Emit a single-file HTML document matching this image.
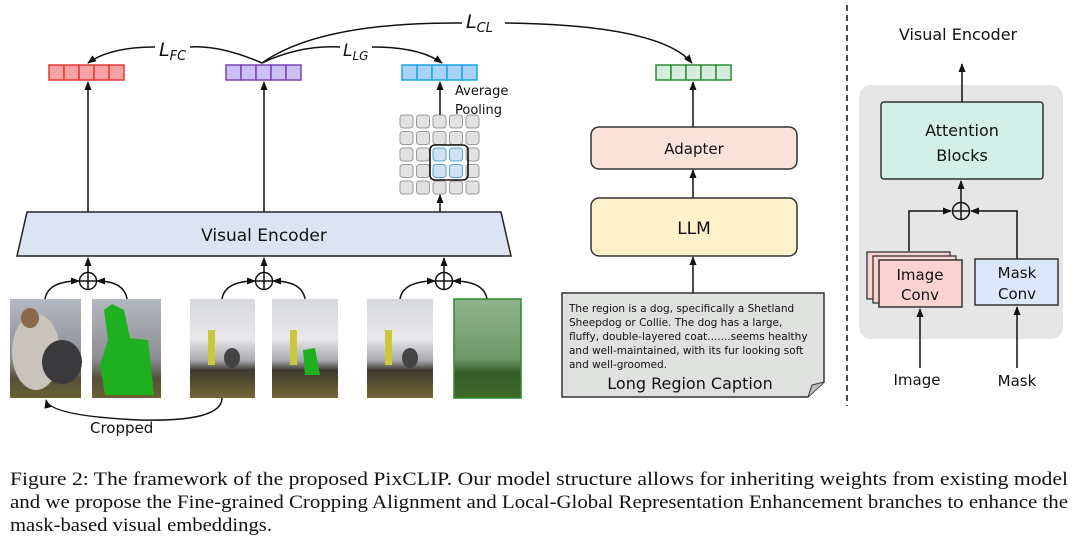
<!DOCTYPE html>
<html><head><meta charset="utf-8"><style>
body{margin:0;background:#fff}
svg{display:block}
text{font-family:"DejaVu Sans","Liberation Sans",sans-serif;fill:#111}
.cap{font-family:"Liberation Serif",serif;font-size:19px;fill:#111}
</style></head><body>
<svg width="1080" height="545" viewBox="0 0 1080 545" xmlns="http://www.w3.org/2000/svg">
<defs>
<marker id="ah" viewBox="0 0 10 10" refX="9" refY="5" markerWidth="6" markerHeight="6" orient="auto-start-reverse"><path d="M0,1 L10,5 L0,9 z" fill="#111"/></marker>
<linearGradient id="sky" x1="0" y1="0" x2="0" y2="1"><stop offset="0" stop-color="#b4b8c0"/><stop offset="0.6" stop-color="#8d8e94"/><stop offset="0.8" stop-color="#55503c"/><stop offset="1" stop-color="#6a6030"/></linearGradient>
<linearGradient id="sky2" x1="0" y1="0" x2="0" y2="1"><stop offset="0" stop-color="#d6d8dc"/><stop offset="0.4" stop-color="#e8e8ea"/><stop offset="0.62" stop-color="#a8a9ae"/><stop offset="0.72" stop-color="#3d3a30"/><stop offset="1" stop-color="#766636"/></linearGradient>
<linearGradient id="gr" x1="0" y1="0" x2="0" y2="1"><stop offset="0" stop-color="#8fb48f"/><stop offset="0.6" stop-color="#6d9a68"/><stop offset="0.75" stop-color="#355c28"/><stop offset="1" stop-color="#3f6a2a"/></linearGradient>
</defs>

<g stroke-width="1.5">
<g fill="#f7a3a3" stroke="#e03a3a"><rect x="49" y="65" width="15" height="15"/><rect x="64" y="65" width="15" height="15"/><rect x="79" y="65" width="15" height="15"/><rect x="94" y="65" width="15" height="15"/><rect x="109" y="65" width="15" height="15"/></g>
<g fill="#cdbff5" stroke="#7a45b0"><rect x="226" y="65" width="15" height="15"/><rect x="241" y="65" width="15" height="15"/><rect x="256" y="65" width="15" height="15"/><rect x="271" y="65" width="15" height="15"/><rect x="286" y="65" width="15" height="15"/></g>
<g fill="#a9d2f7" stroke="#1aa5e0"><rect x="402" y="65" width="15" height="15"/><rect x="417" y="65" width="15" height="15"/><rect x="432" y="65" width="15" height="15"/><rect x="447" y="65" width="15" height="15"/><rect x="462" y="65" width="15" height="15"/></g>
<g fill="#d5eedb" stroke="#2e8b3a"><rect x="656" y="65" width="15" height="15"/><rect x="671" y="65" width="15" height="15"/><rect x="686" y="65" width="15" height="15"/><rect x="701" y="65" width="15" height="15"/><rect x="716" y="65" width="15" height="15"/></g>
</g>

<g fill="none" stroke="#111" stroke-width="1.5">
<path d="M262,63 Q220,45 190,47" /><path d="M155,47 Q110,47 88,63" marker-end="url(#ah)"/>
<path d="M262,63 Q300,45 340,47"/><path d="M372,47 Q420,47 442,63" marker-end="url(#ah)"/>
<path d="M262,63 Q320,22 462,23"/><path d="M505,23 Q660,25 692,63" marker-end="url(#ah)"/>
</g>
<text x="159" y="56" font-size="19" font-style="italic">L<tspan font-size="13" dy="4">FC</tspan></text>
<text x="343" y="56" font-size="17" font-style="italic">L<tspan font-size="12" dy="4">LG</tspan></text>
<text x="466" y="28" font-size="19" font-style="italic">L<tspan font-size="13" dy="4">CL</tspan></text>

<g fill="#e2e2e2" stroke="#999" stroke-width="1">
<rect x="400" y="115" width="13" height="13" rx="3"/><rect x="416.5" y="115" width="13" height="13" rx="3"/><rect x="433" y="115" width="13" height="13" rx="3"/><rect x="449.5" y="115" width="13" height="13" rx="3"/><rect x="466" y="115" width="13" height="13" rx="3"/>
<rect x="400" y="131.5" width="13" height="13" rx="3"/><rect x="416.5" y="131.5" width="13" height="13" rx="3"/><rect x="433" y="131.5" width="13" height="13" rx="3"/><rect x="449.5" y="131.5" width="13" height="13" rx="3"/><rect x="466" y="131.5" width="13" height="13" rx="3"/>
<rect x="400" y="148" width="13" height="13" rx="3"/><rect x="416.5" y="148" width="13" height="13" rx="3"/><rect x="466" y="148" width="13" height="13" rx="3"/>
<rect x="400" y="164.5" width="13" height="13" rx="3"/><rect x="416.5" y="164.5" width="13" height="13" rx="3"/><rect x="466" y="164.5" width="13" height="13" rx="3"/>
<rect x="400" y="181" width="13" height="13" rx="3"/><rect x="416.5" y="181" width="13" height="13" rx="3"/><rect x="433" y="181" width="13" height="13" rx="3"/><rect x="449.5" y="181" width="13" height="13" rx="3"/><rect x="466" y="181" width="13" height="13" rx="3"/>
</g>
<g fill="#cfe2f5" stroke="#5aa0d8" stroke-width="1"><rect x="433" y="148" width="13" height="13" rx="3"/><rect x="449.5" y="148" width="13" height="13" rx="3"/><rect x="433" y="164.5" width="13" height="13" rx="3"/><rect x="449.5" y="164.5" width="13" height="13" rx="3"/></g>
<rect x="430" y="145" width="38" height="35" rx="5" fill="none" stroke="#111" stroke-width="1.6"/>
<text x="455" y="95" font-size="13">Average</text>
<text x="455" y="114" font-size="13">Pooling</text>

<path d="M27,212 L501,212 L511,256 L17,256 Z" fill="#dbe4f3" stroke="#222" stroke-width="1.5"/>
<text x="264" y="241" font-size="17" text-anchor="middle">Visual Encoder</text>
<g stroke="#111" stroke-width="1.5" fill="none">
<line x1="88" y1="212" x2="88" y2="82" marker-end="url(#ah)"/>
<line x1="264" y1="212" x2="264" y2="82" marker-end="url(#ah)"/>
<line x1="440" y1="212" x2="440" y2="195" marker-end="url(#ah)"/>
<line x1="440" y1="115" x2="440" y2="82" marker-end="url(#ah)"/>
<line x1="88" y1="272" x2="88" y2="258" marker-end="url(#ah)"/>
<line x1="264" y1="272" x2="264" y2="258" marker-end="url(#ah)"/>
<line x1="444" y1="272" x2="444" y2="258" marker-end="url(#ah)"/>
<circle cx="88" cy="281" r="8.5"/><path d="M79.5,281h17M88,272.5v17"/>
<circle cx="264" cy="281" r="8.5"/><path d="M255.5,281h17M264,272.5v17"/>
<circle cx="444" cy="281" r="8.5"/><path d="M435.5,281h17M444,272.5v17"/>
<path d="M45,299 Q48,281 79,281" marker-end="url(#ah)"/><path d="M127,299 Q124,281 97,281" marker-end="url(#ah)"/>
<path d="M222,299 Q225,281 255,281" marker-end="url(#ah)"/><path d="M305,299 Q302,281 273,281" marker-end="url(#ah)"/>
<path d="M400,299 Q403,281 435,281" marker-end="url(#ah)"/><path d="M487,299 Q484,281 453,281" marker-end="url(#ah)"/>
<path d="M222,398 Q222,422 140,420 Q50,416 46,400" marker-end="url(#ah)"/>
</g>
<text x="90" y="433" font-size="15">Cropped</text>

<rect x="10" y="299" width="71" height="99" fill="url(#sky)"/>
<ellipse cx="36" cy="352" rx="24" ry="38" fill="#c9c4bb"/><ellipse cx="62" cy="362" rx="20" ry="22" fill="#3a393c"/><ellipse cx="30" cy="318" rx="9" ry="10" fill="#8a6a4a"/>
<rect x="92" y="299" width="69" height="99" fill="url(#sky)"/>
<path d="M104,310 L112,304 L124,310 L130,338 L148,340 L154,395 L105,395 L100,365 L108,340 Z" fill="#1fb01f"/>
<rect x="190" y="299" width="65" height="99" fill="url(#sky2)"/>
<rect x="208" y="330" width="7" height="35" fill="#c8c83a"/><ellipse cx="232" cy="358" rx="8" ry="10" fill="#444"/>
<rect x="272" y="299" width="66" height="99" fill="url(#sky2)"/>
<rect x="290" y="330" width="7" height="35" fill="#c8c83a"/><path d="M303,350 L315,348 L320,375 L305,375 Z" fill="#1fb01f"/>
<rect x="367" y="299" width="66" height="99" fill="url(#sky2)"/>
<rect x="385" y="330" width="7" height="35" fill="#c8c83a"/><ellipse cx="410" cy="358" rx="8" ry="10" fill="#444"/>
<rect x="454" y="299" width="67" height="99" fill="url(#gr)" stroke="#2a8a2a" stroke-width="1.5"/>

<g stroke="#111" stroke-width="1.5" fill="none">
<line x1="693" y1="127" x2="693" y2="82" marker-end="url(#ah)"/>
<line x1="693" y1="198" x2="693" y2="170" marker-end="url(#ah)"/>
<line x1="693" y1="293" x2="693" y2="257" marker-end="url(#ah)"/>
</g>
<rect x="591" y="127" width="206" height="42" rx="8" fill="#fae4da" stroke="#333" stroke-width="1.5"/>
<text x="694" y="154" font-size="15" text-anchor="middle">Adapter</text>
<rect x="591" y="198" width="206" height="58" rx="8" fill="#fdf1cc" stroke="#333" stroke-width="1.5"/>
<text x="694" y="234" font-size="17" text-anchor="middle">LLM</text>
<path d="M562,293 L824,293 L824,382 L808,397 L562,397 Z" fill="#dfe1df" stroke="#333" stroke-width="1.5"/>
<path d="M824,382 L812,385 L808,397" fill="#bbb" stroke="#333" stroke-width="1"/>
<g font-size="10.5"><text x="569" y="312">The region is a dog, specifically a Shetland</text>
<text x="569" y="326">Sheepdog or Collie. The dog has a large,</text>
<text x="569" y="340">fluffy, double-layered coat.......seems healthy</text>
<text x="569" y="354">and well-maintained, with its fur looking soft</text>
<text x="569" y="368">and well-groomed.</text></g>
<text x="690" y="389" font-size="16" text-anchor="middle">Long Region Caption</text>

<line x1="847" y1="5" x2="847" y2="406" stroke="#111" stroke-width="1.5" stroke-dasharray="6,4"/>

<text x="958" y="40" font-size="16" text-anchor="middle">Visual Encoder</text>
<rect x="859" y="85" width="204" height="254" rx="12" fill="#e6e6e6"/>
<g stroke="#111" stroke-width="1.5" fill="none">
<line x1="962" y1="102" x2="962" y2="64" marker-end="url(#ah)"/>
<line x1="961" y1="202" x2="961" y2="181" marker-end="url(#ah)"/>
<circle cx="961" cy="211" r="8.5"/><path d="M952.5,211h17M961,202.5v17"/>
<path d="M909,251 V211 H951" marker-end="url(#ah)"/>
<path d="M1017,259 V211 H971" marker-end="url(#ah)"/>
<line x1="920" y1="368" x2="920" y2="309" marker-end="url(#ah)"/>
<line x1="1017" y1="368" x2="1017" y2="307" marker-end="url(#ah)"/>
</g>
<rect x="881" y="102" width="162" height="77" rx="3" fill="#d3efe8" stroke="#333" stroke-width="1.5"/>
<text x="962" y="136" font-size="16" text-anchor="middle">Attention</text>
<text x="962" y="161" font-size="16" text-anchor="middle">Blocks</text>
<rect x="867" y="252" width="83" height="47" fill="#fad3d0" stroke="#333" stroke-width="1.3"/>
<rect x="873" y="256" width="83" height="47" fill="#fad3d0" stroke="#333" stroke-width="1.3"/>
<rect x="879" y="260" width="83" height="47" fill="#fad3d0" stroke="#333" stroke-width="1.5"/>
<text x="920" y="280" font-size="15" text-anchor="middle">Image</text>
<text x="920" y="300" font-size="15" text-anchor="middle">Conv</text>
<rect x="975" y="259" width="83" height="46" fill="#dbe7fb" stroke="#333" stroke-width="1.5"/>
<text x="1017" y="278" font-size="15" text-anchor="middle">Mask</text>
<text x="1017" y="299" font-size="15" text-anchor="middle">Conv</text>
<text x="917" y="385" font-size="15" text-anchor="middle">Image</text>
<text x="1017" y="386" font-size="15" text-anchor="middle">Mask</text>

<text class="cap" x="10" y="485" textLength="1058" lengthAdjust="spacingAndGlyphs">Figure 2: The framework of the proposed PixCLIP. Our model structure allows for inheriting weights from existing model</text>
<text class="cap" x="10" y="508" textLength="1058" lengthAdjust="spacingAndGlyphs">and we propose the Fine-grained Cropping Alignment and Local-Global Representation Enhancement branches to enhance the</text>
<text class="cap" x="10" y="531" textLength="262" lengthAdjust="spacingAndGlyphs">mask-based visual embeddings.</text>
</svg>
</body></html>
